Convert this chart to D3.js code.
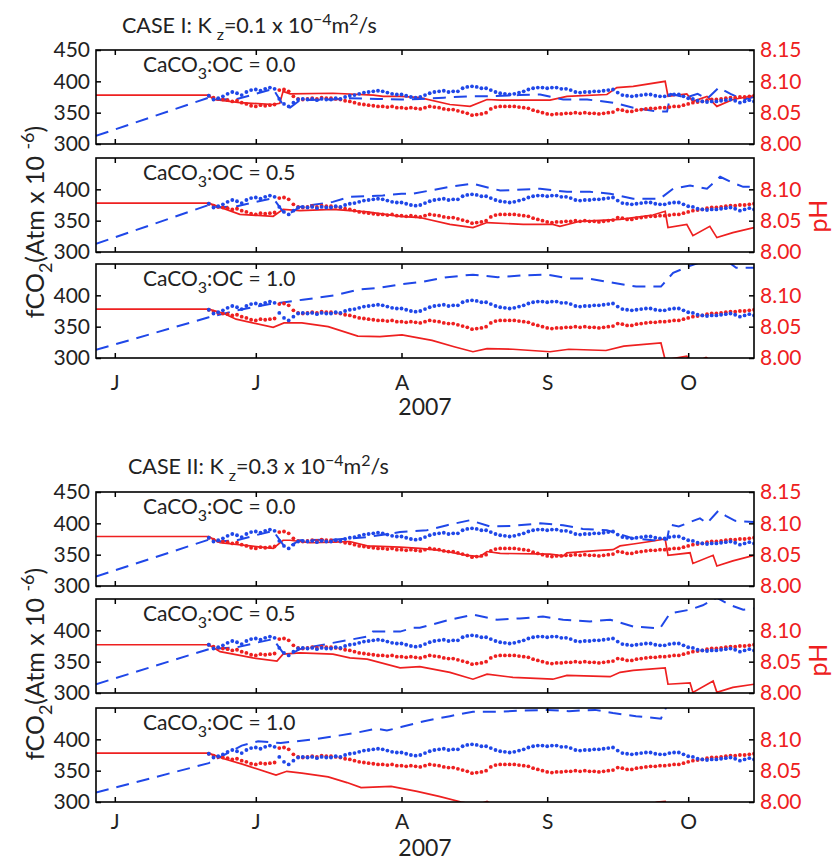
<!DOCTYPE html>
<html>
<head>
<meta charset="utf-8">
<script src="https://cdn.jsdelivr.net/npm/d3@7"></script>
<style>
  body { margin: 0; background: #fff; }
  svg { display: block; font-family: Lato, "Open Sans", sans-serif; }
</style>
</head>
<body>
<svg id="chart" width="835" height="861"></svg>
<script>
// ---- data ----
// days counted from 1 June 2007
const monthLabels = ['J', 'J', 'A', 'S', 'O'];
const monthDays = [0, 30, 61, 92, 122];
const fco2Ticks = [300, 350, 400, 450];
const phTicks = [8.00, 8.05, 8.10, 8.15];
const ratioLabels = ['0.0', '0.5', '1.0'];

// observations, one per day from day 20
const obsStart = 20;
const obsFco2 = [
  377, 371, 373, 376, 380, 383, 381, 378, 383, 386,
  387, 385, 388, 390, 388, 372, 364, 360, 366, 371,
  372, 371, 372, 370, 372, 371, 371, 373, 372, 375,
  377, 378, 380, 382, 383, 384, 385, 384, 382, 380,
  379, 379, 377, 375, 374, 375, 378, 381, 383, 384,
  385, 383, 384, 384, 389, 391, 392, 391, 389, 389,
  386, 383, 381, 380, 379, 380, 382, 384, 387, 389,
  390, 390, 389, 390, 390, 388, 388, 386, 383, 382,
  383, 383, 384, 384, 385, 386, 387, 382, 378, 377,
  376, 377, 378, 379, 379, 377, 376, 376, 378, 379,
  379, 376, 373, 372, 369, 368, 367, 368, 368, 369,
  370, 371, 369, 366, 368, 370, 368
];
const obsPh = [
  8.077, 8.074, 8.072, 8.071, 8.070, 8.068, 8.069, 8.066, 8.064, 8.061,
  8.060, 8.062, 8.061, 8.062, 8.063, 8.086, 8.087, 8.084, 8.076, 8.072,
  8.071, 8.072, 8.073, 8.072, 8.074, 8.073, 8.073, 8.072, 8.071, 8.069,
  8.068, 8.066, 8.064, 8.063, 8.062, 8.061, 8.060, 8.060, 8.059, 8.060,
  8.058, 8.058, 8.057, 8.058, 8.057, 8.056, 8.058, 8.060, 8.059, 8.058,
  8.056, 8.055, 8.055, 8.053, 8.051, 8.049, 8.046, 8.047, 8.048, 8.050,
  8.056, 8.059, 8.060, 8.060, 8.060, 8.060, 8.059, 8.058, 8.057, 8.054,
  8.052, 8.050, 8.048, 8.047, 8.048, 8.048, 8.049, 8.049, 8.050, 8.049,
  8.050, 8.049, 8.049, 8.048, 8.049, 8.050, 8.051, 8.055, 8.054, 8.052,
  8.052, 8.054, 8.055, 8.056, 8.057, 8.057, 8.058, 8.058, 8.059, 8.060,
  8.060, 8.062, 8.064, 8.066, 8.067, 8.068, 8.070, 8.071, 8.071, 8.072,
  8.073, 8.074, 8.074, 8.075, 8.075, 8.076, 8.077
];

// model runs [day, value]
const fco2CaseI00 = [[-4,313],[20,374],[22,371],[26,372],[30,380],[33.7,388],[35.8,362],[37.3,358],[39.4,370],[46.4,371],[50,373],[56,372],[61,371],[65,372],[70,374],[75,376],[79.8,376],[86,378],[90.5,379],[95.4,371],[100.5,371],[106,366],[110.3,358],[115.4,352],[117.5,352],[118.3,380],[121.5,374],[124,380],[126,372],[128.5,390],[131,380],[133.7,371],[136,375]];
const phCaseI00 = [[-4,8.078],[20,8.078],[21,8.071],[26.6,8.066],[33.7,8.063],[35.1,8.065],[35.8,8.084],[37.3,8.080],[46.4,8.081],[55,8.078],[57.1,8.076],[61,8.076],[64.9,8.074],[71.3,8.063],[75.6,8.060],[79.2,8.071],[82,8.070],[92.6,8.070],[96.2,8.076],[104.7,8.079],[106.8,8.090],[110.3,8.092],[117.1,8.100],[117.7,8.076],[121.7,8.080],[123,8.068],[126,8.076],[128.1,8.060],[131.5,8.071],[136,8.077]];
const fco2CaseI05 = [[-4,313],[20,375],[22,371],[26,373],[30,380],[33.7,386],[35.8,364],[37.3,362],[39.4,372],[46.4,380],[50,388],[57,390],[61,393],[63.4,393],[71.3,404],[76.2,409],[82,398],[90.5,401],[96.2,396],[101.1,396],[105.4,393],[110.3,385],[116,385],[118.8,401],[122.4,406],[126,401],[128.8,420],[131,412],[133.7,404],[136,404]];
const phCaseI05 = [[-4,8.078],[20,8.078],[26.6,8.060],[33.7,8.057],[35.8,8.068],[39.4,8.066],[46.4,8.068],[53.7,8.064],[60.7,8.057],[64.9,8.055],[71.3,8.044],[76.2,8.039],[79.2,8.047],[86.9,8.044],[93.2,8.044],[94.7,8.041],[99,8.049],[107.5,8.052],[114.5,8.059],[117.1,8.065],[117.7,8.039],[121.7,8.044],[123,8.026],[126.6,8.041],[128.1,8.023],[131.5,8.031],[136,8.039]];
const fco2CaseI10 = [[-4,313],[20,365],[26,376],[33,386],[40,393],[46.9,400],[51.7,409],[56.4,412],[61.1,418],[65.8,422],[70.7,429],[76.2,433],[81.5,429],[87.1,432],[92,433],[96.6,427],[100.5,427],[106,420],[110.9,414],[116.2,414],[118.8,436],[122.4,447],[125.8,456],[129,462],[132.2,444],[136,444]];
const phCaseI10 = [[-4,8.078],[20,8.078],[23.2,8.071],[25.8,8.062],[33.7,8.049],[36,8.056],[39.8,8.056],[45.4,8.050],[51.7,8.035],[56.4,8.034],[61.1,8.037],[67.5,8.028],[72.2,8.018],[76.2,8.010],[79.2,8.015],[84.7,8.014],[92.6,8.010],[96.6,8.014],[104.5,8.012],[108.3,8.019],[116.2,8.024],[117.1,7.997],[121.7,8.003],[122.6,7.990],[125.8,8.001],[128,7.990],[136,7.998]];
const fco2CaseII00 = [[-4,315],[20,374],[22,371],[26,373],[30,381],[33.7,388],[35.8,366],[37.3,364],[39.4,373],[46.4,374],[53.7,378],[60.7,386],[66.4,389],[70.7,397],[75.6,405],[79.8,395],[84.7,396],[90.5,400],[95.4,397],[99.6,391],[104.7,389],[110.3,376],[114.5,373],[117.5,374],[118.1,398],[120,395],[122.4,402],[124.5,408],[126,400],[128.4,420],[130,412],[132,404],[136,402]];
const phCaseII00 = [[-4,8.079],[20,8.079],[22.4,8.069],[28.8,8.064],[33.7,8.060],[35.8,8.073],[37.3,8.073],[41.5,8.069],[46.4,8.070],[50,8.071],[53.7,8.064],[60.7,8.062],[64.9,8.060],[69.2,8.057],[74.9,8.049],[77.7,8.047],[79.2,8.055],[82,8.052],[92.6,8.051],[95.4,8.048],[96.2,8.053],[103.2,8.057],[106,8.058],[107.5,8.064],[110.3,8.067],[113.9,8.071],[117.1,8.075],[117.7,8.049],[122.4,8.053],[123,8.036],[127.3,8.049],[128.1,8.032],[131.5,8.040],[136,8.049]];
const fco2CaseII05 = [[-4,314],[20,370],[22,371],[26,373],[30,380],[33.7,386],[35.8,364],[37.3,362],[39.4,370],[46.4,380],[53.7,390],[54.9,398],[60.7,398],[63.4,404],[64.9,404],[71.3,417],[76.2,425],[81.3,417],[86.2,419],[91.1,422],[95.4,417],[101.1,414],[105.4,417],[110.3,406],[116,403],[118.1,427],[122.4,433],[125.1,440],[128.1,452],[131,440],[133.7,433],[136,435]];
const phCaseII05 = [[-4,8.077],[20,8.077],[22.4,8.066],[29.4,8.056],[34.5,8.051],[35.8,8.062],[39.4,8.064],[46.4,8.062],[50,8.056],[53.7,8.054],[60.7,8.040],[64.9,8.042],[71.3,8.033],[76.2,8.022],[79.2,8.030],[84.7,8.025],[93.2,8.022],[96.2,8.028],[105.4,8.026],[107.5,8.033],[110.3,8.036],[117.1,8.040],[117.7,8.014],[122.4,8.016],[123,8.001],[127.3,8.019],[128.1,8.001],[131.5,8.009],[136,8.014]];
const fco2CaseII10 = [[-4,315],[20,362],[27,390],[30.5,397],[35.3,394],[42.2,400],[46.9,405],[51.7,411],[55.6,417],[57.9,414],[61.1,420],[65.8,429],[71.3,437],[76.2,444],[81.5,444],[87.1,446],[92,447],[96.6,445],[102.2,447],[106,442],[110.9,437],[116.2,433],[118.5,470],[136,470]];
const phCaseII10 = [[-4,8.078],[20,8.078],[23.2,8.069],[27.3,8.060],[34.3,8.043],[36.6,8.049],[39.8,8.046],[45.4,8.040],[49.4,8.031],[52.4,8.023],[58.8,8.025],[64.3,8.017],[69,8.009],[73.7,8.000],[77,7.995],[79.2,8.001],[80.5,7.995],[90,7.985],[110,7.985],[115.4,8.000],[117.1,8.001],[117.7,7.985],[136,7.980]];

// ---- layout ----
const svg = d3.select('#chart');
const BLUE = '#1f47e8';
const RED = '#ee2020';
const left = 96, right = 754, panelH = 94;

const dayToDate = d => new Date(Date.UTC(2007, 5, 1) + d * 864e5);
const x = d3.scaleUtc()
    .domain([dayToDate(-4), dayToDate(136)])
    .range([left, right]);

const cases = [
  { name: 'CASE I: K', kz: '=0.1 x 10', titleX: 122, titleY: 33,
    tops: [50, 158, 264], monthPad: 17, yearY: 415, labelY: 222, phY: 216,
    fco2: [fco2CaseI00, fco2CaseI05, fco2CaseI10], ph: [phCaseI00, phCaseI05, phCaseI10] },
  { name: 'CASE II: K', kz: '=0.3 x 10', titleX: 128, titleY: 474,
    tops: [492, 599, 708], monthPad: 12, yearY: 856, labelY: 664, phY: 660,
    fco2: [fco2CaseII00, fco2CaseII05, fco2CaseII10], ph: [phCaseII00, phCaseII05, phCaseII10] }
];

let clipId = 0;

function styleAxis(g, color) {
    g.attr('font-family', null).attr('font-size', 21);
    g.select('.domain').remove();
    g.selectAll('.tick line').attr('stroke', '#000').attr('stroke-width', 1.5);
    g.selectAll('.tick text').attr('fill', color);
}

function drawPanel(top, fco2Line, phLine, ratio, isFirst, isLast, c) {
    const y = d3.scaleLinear().domain([300, 450]).range([top + panelH, top]);
    const yph = d3.scaleLinear().domain([8.00, 8.15]).range([top + panelH, top]);
    const id = 'clip' + (clipId++);

    svg.append('clipPath').attr('id', id)
        .append('rect')
        .attr('x', left).attr('y', top)
        .attr('width', right - left).attr('height', panelH);

    const plot = svg.append('g').attr('clip-path', `url(#${id})`);

    // model lines
    plot.append('path').datum(phLine)
        .attr('d', d3.line().x(d => x(dayToDate(d[0]))).y(d => yph(d[1])))
        .attr('fill', 'none').attr('stroke', RED).attr('stroke-width', 1.7);

    plot.append('path').datum(fco2Line)
        .attr('d', d3.line().x(d => x(dayToDate(d[0]))).y(d => y(d[1])))
        .attr('fill', 'none').attr('stroke', BLUE).attr('stroke-width', 2)
        .attr('stroke-dasharray', '13,8');

    // observations
    plot.append('g').selectAll('circle')
        .data(obsPh)
        .enter().append('circle')
        .attr('cx', (d, i) => x(dayToDate(obsStart + i)))
        .attr('cy', d => yph(d))
        .attr('r', 1.9)
        .attr('fill', RED);

    plot.append('g').selectAll('circle')
        .data(obsFco2)
        .enter().append('circle')
        .attr('cx', (d, i) => x(dayToDate(obsStart + i)))
        .attr('cy', d => y(d))
        .attr('r', 1.9)
        .attr('fill', BLUE);

    // axes with inward ticks
    const monthDates = monthDays.map(dayToDate);
    const leftVals = isFirst ? fco2Ticks : fco2Ticks.slice(0, 3);
    const rightVals = isFirst ? phTicks : phTicks.slice(0, 3);

    svg.append('g').attr('transform', `translate(${left},0)`)
        .call(d3.axisLeft(y).tickValues(leftVals).tickSize(-5).tickPadding(6).tickFormat(d3.format('d')))
        .call(g => styleAxis(g, '#222'));

    svg.append('g').attr('transform', `translate(${right},0)`)
        .call(d3.axisRight(yph).tickValues(rightVals).tickSize(-5).tickPadding(6).tickFormat(d3.format('.2f')))
        .call(g => styleAxis(g, RED));

    svg.append('g').attr('transform', `translate(0,${top})`)
        .call(d3.axisTop(x).tickValues(monthDates).tickSize(-5).tickFormat(''))
        .call(g => styleAxis(g, '#222'));

    svg.append('g').attr('transform', `translate(0,${top + panelH})`)
        .call(d3.axisBottom(x).tickValues(monthDates).tickSize(-5)
            .tickPadding(c.monthPad)
            .tickFormat(isLast ? (d, i) => monthLabels[i] : ''))
        .call(g => styleAxis(g, '#222'));

    // frame
    svg.append('rect')
        .attr('x', left).attr('y', top)
        .attr('width', right - left).attr('height', panelH)
        .attr('fill', 'none').attr('stroke', '#000').attr('stroke-width', 1.6);

    // panel label
    const lab = svg.append('text')
        .attr('x', 143).attr('y', top + 22)
        .attr('font-size', 21).attr('fill', '#222');
    lab.append('tspan').text('CaCO');
    lab.append('tspan').attr('font-size', 16).attr('dy', 7).text('3');
    lab.append('tspan').attr('dy', -7).text(':OC = ' + ratio);
}

cases.forEach(c => {
    c.tops.forEach((top, i) => {
        drawPanel(top, c.fco2[i], c.ph[i], ratioLabels[i], i === 0, i === 2, c);
    });

    // case title
    const t = svg.append('text')
        .attr('x', c.titleX).attr('y', c.titleY)
        .attr('font-size', 21.5).attr('fill', '#222');
    t.append('tspan').text(c.name);
    t.append('tspan').attr('font-size', 16).attr('dx', 5).attr('dy', 7).text('z');
    t.append('tspan').attr('dy', -7).text(c.kz);
    t.append('tspan').attr('font-size', 16).attr('dy', -8).text('\u22124');
    t.append('tspan').attr('dy', 8).text('m');
    t.append('tspan').attr('font-size', 16).attr('dy', -8).text('2');
    t.append('tspan').attr('dy', 8).text('/s');

    // year label
    svg.append('text')
        .attr('x', 425).attr('y', c.yearY)
        .attr('text-anchor', 'middle')
        .attr('font-size', 23).attr('fill', '#222')
        .text('2007');

    // left axis title
    const yl = svg.append('text')
        .attr('transform', `translate(44,${c.labelY}) rotate(-90)`)
        .attr('text-anchor', 'middle')
        .attr('font-size', 25).attr('fill', '#222');
    yl.append('tspan').text('fCO');
    yl.append('tspan').attr('font-size', 18).attr('dy', 8).text('2');
    yl.append('tspan').attr('dy', -8).text('(Atm x 10 ');
    yl.append('tspan').attr('font-size', 18).attr('dy', -10).text('-6');
    yl.append('tspan').attr('dy', 10).text(')');

    // right axis title
    svg.append('text')
        .attr('transform', `translate(827,${c.phY}) rotate(-90)`)
        .attr('text-anchor', 'middle')
        .attr('font-size', 25).attr('fill', RED)
        .text('pH');
});
</script>
</body>
</html>
